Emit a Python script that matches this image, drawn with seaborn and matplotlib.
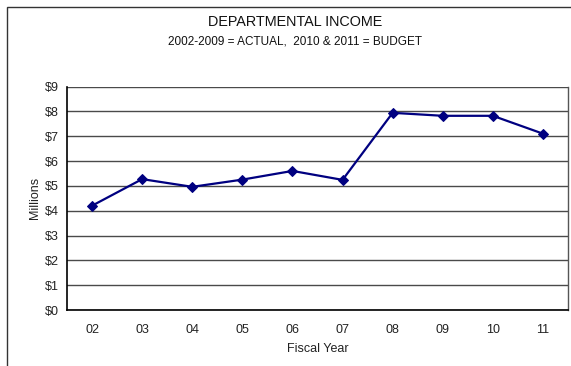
import matplotlib
matplotlib.use("Agg")
import matplotlib.pyplot as plt
import seaborn as sns
import pandas as pd
import numpy as np
from matplotlib.patches import Rectangle

years = ["02", "03", "04", "05", "06", "07", "08", "09", "10", "11"]
income = [4.2, 5.27, 4.96, 5.25, 5.6, 5.24, 7.94, 7.82, 7.82, 7.1]
yticks = [0, 1, 2, 3, 4, 5, 6, 7, 8, 9]
ytick_labels = ["$0", "$1", "$2", "$3", "$4", "$5", "$6", "$7", "$8", "$9"]

sns.set_style("white")
plt.rcParams['font.family'] = ['Liberation Sans', 'DejaVu Sans']

df = pd.DataFrame({"year": years, "income": income})

fig = plt.figure(figsize=(5.71, 3.66), dpi=100)
ax = fig.add_axes([67/571, 1 - 310/366, (568 - 67)/571, (310 - 86.5)/366])

sns.lineplot(data=df, x="year", y="income", ax=ax, color="#000080",
             marker="D", markersize=5.5, markeredgecolor="#000080",
             linewidth=1.6, sort=False)

ax.set_ylim(0, 9)
ax.set_xlim(-0.5, len(years) - 0.5)
ax.set_yticks(yticks)
ax.set_yticklabels(ytick_labels)
ax.set_xticks(range(len(years)))
ax.set_xticklabels(years)
ax.set_xticks(np.arange(-0.5, len(years), 1.0), minor=True)
ax.tick_params(axis="x", which="major", length=0, pad=10, labelsize=9, colors="#222222")
ax.tick_params(axis="x", which="minor", length=4, width=0.8, direction="out", color="black")
ax.tick_params(axis="y", which="major", length=4, width=0.8, direction="out", color="black",
               labelsize=9, labelcolor="#222222", pad=2)
ax.yaxis.grid(True, color="#4a4a4a", linewidth=1.0)
ax.set_axisbelow(True)

for s in ["left", "bottom"]:
    ax.spines[s].set_visible(True)
    ax.spines[s].set_color("black")
    ax.spines[s].set_linewidth(1.2)
ax.spines["top"].set_visible(False)
ax.spines["right"].set_visible(True)
ax.spines["right"].set_color("#555555")
ax.spines["right"].set_linewidth(1.0)

ax.set_xlabel("Fiscal Year", fontsize=9, labelpad=5, color="#222222")
ax.set_ylabel("Millions", fontsize=9, labelpad=3, color="#222222")

fig.text(295/571, 1 - 22/366, "DEPARTMENTAL INCOME", ha="center", va="center",
         fontsize=10.4, color="#111111")
fig.text(295/571, 1 - 41/366, "2002-2009 = ACTUAL,  2010 & 2011 = BUDGET", ha="center",
         va="center", fontsize=8.5, color="#111111")

# outer chart frame (right and bottom edges fall outside the image)
fig.patches.append(Rectangle((7/571, -0.05), 1.0, 1 - 7/366 + 0.05,
                             transform=fig.transFigure, fill=False,
                             edgecolor="#333333", linewidth=1.0))

fig.savefig("out.png", dpi=100)
